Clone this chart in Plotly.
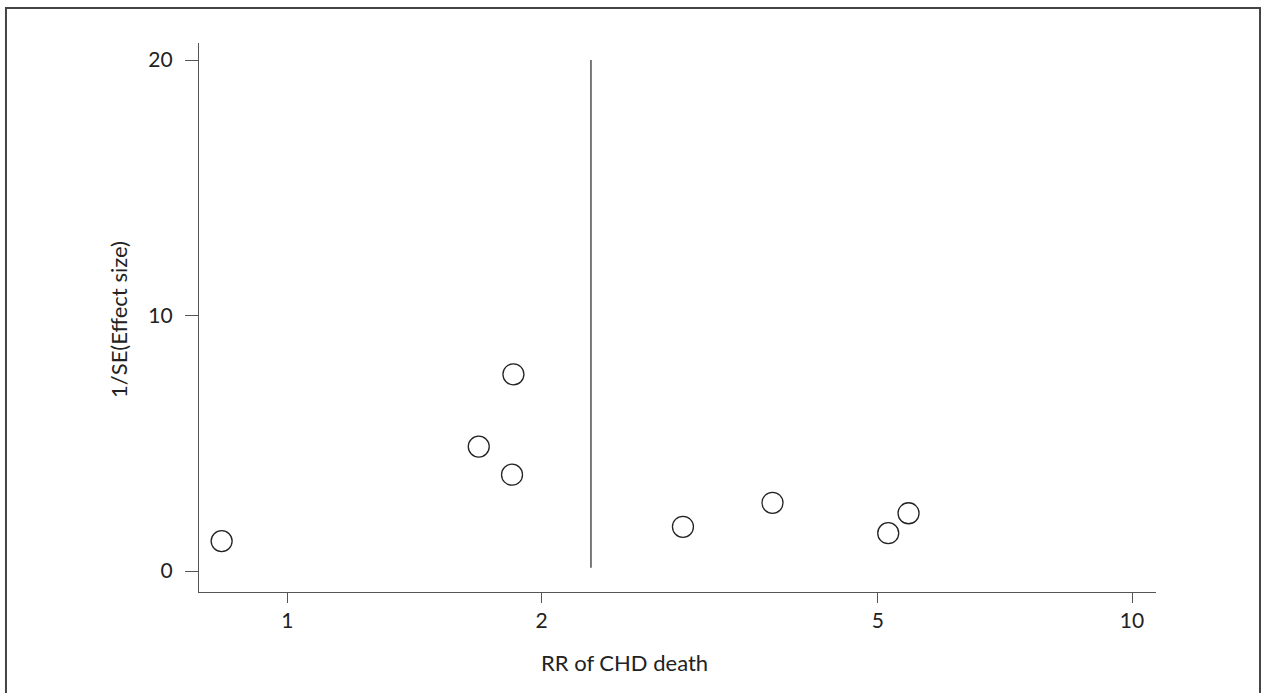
import plotly.graph_objects as go

# Data: relative risk (RR) of CHD death vs precision (1/SE)
rr_values = [0.836, 1.685, 1.852, 1.845, 2.940, 3.753, 5.145, 5.438]
precision = [1.17, 4.87, 7.70, 3.77, 1.73, 2.67, 1.48, 2.26]
pooled_rr = [2.288, 2.288]
pooled_line_y = [0.13, 20]
x_tick_vals = [1, 2, 5, 10]
x_tick_text = ["1", "2", "5", "10"]
y_tick_vals = [0, 10, 20]
y_tick_text = ["0", "10", "20"]

FONT = "Lato, 'Open Sans', sans-serif"
TXT = "#222222"
LINE = "#555555"

fig = go.Figure()
fig.add_trace(go.Scatter(
    x=pooled_rr, y=pooled_line_y, mode="lines",
    line=dict(color="#333333", width=1.3), showlegend=False, hoverinfo="skip"))
fig.add_trace(go.Scatter(
    x=rr_values, y=precision, mode="markers",
    marker=dict(symbol="circle-open", size=21, color="#222222",
                line=dict(color="#222222", width=1.3)),
    showlegend=False))

fig.update_layout(
    width=1261, height=693,
    margin=dict(l=199, r=105, t=43, b=101),
    paper_bgcolor="white", plot_bgcolor="white",
    font=dict(family=FONT, size=21, color=TXT),
    xaxis=dict(type="log", range=[-0.1046, 1.0284],
               tickvals=x_tick_vals, ticktext=x_tick_text,
               tickfont=dict(size=21, color=TXT),
               showgrid=False, zeroline=False, showline=True,
               linecolor=LINE, linewidth=1.3, ticks="outside",
               ticklen=10, tickwidth=1.3, tickcolor=LINE,
               ticklabelstandoff=0, fixedrange=True),
    yaxis=dict(range=[-0.822, 20.67],
               tickvals=y_tick_vals, ticktext=y_tick_text,
               tickfont=dict(size=21, color=TXT),
               showgrid=False, zeroline=False, showline=True,
               linecolor=LINE, linewidth=1.3, ticks="outside",
               ticklen=13, tickwidth=1.3, tickcolor=LINE,
               ticklabelstandoff=8, fixedrange=True),
    shapes=[dict(type="rect", xref="paper", yref="paper",
                 x0=-0.2017, x1=1.1087, y0=-0.25, y1=1.0638,
                 line=dict(color="#444444", width=2), layer="below")],
    annotations=[
        dict(text="RR of CHD death", xref="paper", yref="paper",
             x=(539 - 199) / 957, y=-(662 - 592) / 549,
             xanchor="left", yanchor="middle", showarrow=False,
             font=dict(family=FONT, size=22, color=TXT)),
        dict(text="1/SE(Effect size)", xref="paper", yref="paper",
             x=-(199 - 118) / 957, y=(592 - 320) / 549,
             xanchor="center", yanchor="middle", showarrow=False,
             textangle=-90,
             font=dict(family=FONT, size=22, color=TXT)),
    ],
)

fig.write_html("out.html")
